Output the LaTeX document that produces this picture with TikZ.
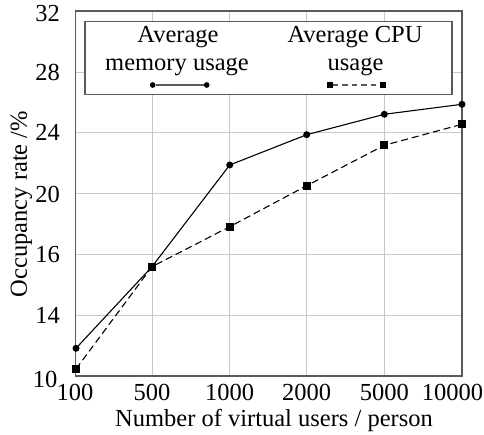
\documentclass[tikz,border=0pt]{standalone}
\usepackage{fontspec}
\setmainfont{Liberation Serif}
\definecolor{gridc}{HTML}{C8C8C8}
\definecolor{framec}{HTML}{5A5A5A}
\begin{document}
\begin{tikzpicture}[x=1pt,y=-1pt,
  font=\fontsize{24.5}{29}\selectfont,
  gridline/.style={draw=gridc, line width=1pt},
  axisframe/.style={draw=framec, line width=1.5pt},
  legendbox/.style={draw=framec, fill=white, line width=1.2pt},
  memline/.style={draw=black, line width=1.1pt},
  cpuline/.style={draw=black, line width=1.1pt, dash pattern=on 7pt off 4pt},
  memmark/.style={circle, fill=black, inner sep=0pt, minimum size=7pt},
  cpumark/.style={rectangle, fill=black, inner sep=0pt, minimum size=8pt},
  legmem/.style={circle, fill=black, inner sep=0pt, minimum size=5.7pt},
  legcpu/.style={rectangle, fill=black, inner sep=0pt, minimum size=6pt},
  ticklab/.style={inner sep=0pt},
]
\useasboundingbox (0,0) rectangle (484,435);
% grid
\foreach \gx in {152,229.7,306.7,384.3} \draw[gridline] (\gx,11) -- (\gx,376);
\foreach \gy in {72.7,132.7,194,254.3,315.7} \draw[gridline] (75.5,\gy) -- (462,\gy);
% frame
\draw[axisframe] (75.5,11) rectangle (462,376);
% legend
\draw[legendbox] (85,21.7) rectangle (452,94.5);
\node[anchor=base, inner sep=0pt] (l1a) at (178,43) {Average};
\node[anchor=base, inner sep=0pt] (l1b) at (177,71) {memory usage};
\node[anchor=base, inner sep=0pt] (l2a) at (355,43) {Average CPU};
\node[anchor=base, inner sep=0pt] (l2b) at (355.5,71) {usage};
\node[legmem] (lm1) at (152.7,85) {};
\node[legmem] (lm2) at (206.7,85) {};
\draw[memline, draw=framec] (lm1) -- (lm2);
\node[legcpu] (lc1) at (329.5,85) {};
\node[legcpu] (lc2) at (383,85) {};
\draw[cpuline, draw=framec, dash pattern=on 5.5pt off 4pt] (lc1) -- (lc2);
% data: CPU
\node[cpumark] (c1) at (76,369) {};
\node[cpumark] (c2) at (152,266.7) {};
\node[cpumark] (c3) at (229.7,226.7) {};
\node[cpumark] (c4) at (306.7,185.7) {};
\node[cpumark] (c5) at (384.3,145.3) {};
\node[cpumark] (c6) at (462,124.3) {};
\draw[cpuline] (c1.center) -- (c2.center) -- (c3.center) -- (c4.center) -- (c5.center) -- (c6.center);
% data: memory
\node[memmark] (m1) at (76,348.3) {};
\node[memmark] (m2) at (152,266.7) {};
\node[memmark] (m3) at (229.7,165) {};
\node[memmark] (m4) at (306.7,134.7) {};
\node[memmark] (m5) at (384.3,114.3) {};
\node[memmark] (m6) at (462,104.3) {};
\draw[memline] (m1.center) -- (m2.center) -- (m3.center) -- (m4.center) -- (m5.center) -- (m6.center);
\node[cpumark] (c2b) at (152,266.7) {};
% y tick labels
\node[ticklab, anchor=east] (y32) at (60,14) {32};
\node[ticklab, anchor=east] (y28) at (60,72.7) {28};
\node[ticklab, anchor=east] (y24) at (60,132.7) {24};
\node[ticklab, anchor=east] (y20) at (60,194) {20};
\node[ticklab, anchor=east] (y16) at (60,254.3) {16};
\node[ticklab, anchor=east] (y14) at (60,315.7) {14};
\node[ticklab, anchor=east] (y10) at (57.5,379) {10};
% x tick labels
\node[ticklab] (x100) at (75,392) {100};
\node[ticklab] (x500) at (152,392) {500};
\node[ticklab] (x1000) at (229.7,392) {1000};
\node[ticklab] (x2000) at (306.7,392) {2000};
\node[ticklab] (x5000) at (384.3,392) {5000};
\node[ticklab] (x10000) at (452.5,392) {10000};
% axis titles
\node[ticklab, anchor=base] (xt) at (274,426) {Number of virtual users / person};
\node[ticklab, anchor=base, rotate=90] (yt) at (27,204) {Occupancy rate /\%};
\end{tikzpicture}
\end{document}
